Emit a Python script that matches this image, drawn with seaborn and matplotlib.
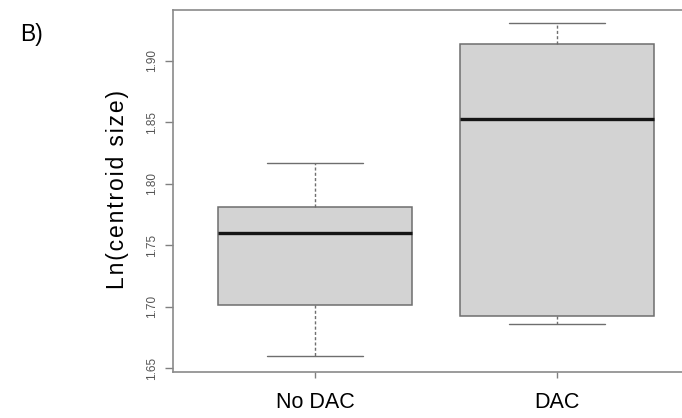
import numpy as np
import pandas as pd
import matplotlib
matplotlib.use("Agg")
import matplotlib.pyplot as plt
import seaborn as sns

# Five-number summaries (min, q1, median, q3, max)
groups = ["No DAC", "DAC"]
no_dac = [1.660, 1.701, 1.760, 1.781, 1.817]
dac = [1.686, 1.692, 1.853, 1.914, 1.931]
yticks = [1.65, 1.70, 1.75, 1.80, 1.85, 1.90]
ylabel = "Ln(centroid size)"

df = pd.DataFrame({
    "group": [groups[0]] * len(no_dac) + [groups[1]] * len(dac),
    "value": no_dac + dac,
})

sns.set_style("white")
plt.rcParams["font.family"] = ["Liberation Sans", "DejaVu Sans"]

fig = plt.figure(figsize=(6.82, 4.18), dpi=100)
W, H = 682, 418
left, right, top, bottom = 173, 699, 10, 372
ax = fig.add_axes([left / W, 1 - bottom / H, (right - left) / W, (bottom - top) / H])

edge = "#6e6e6e"
sns.boxplot(
    data=df, x="group", y="value", order=groups, ax=ax,
    color="#d3d3d3", saturation=1, width=0.8, whis=np.inf,
    linecolor=edge, linewidth=1.1, fliersize=0,
    medianprops=dict(color="#151515", linewidth=2.4),
    whiskerprops=dict(color=edge, linestyle=(0, (2.2, 1.6)), linewidth=1.0),
    capprops=dict(color=edge, linewidth=1.0),
    boxprops=dict(edgecolor=edge, linewidth=1.1),
)

ax.set_xlim(-0.587, 1.587)
ax.set_ylim(1.6467, 1.9415)
ax.set_yticks(yticks)
ax.set_yticklabels([f"{v:.2f}" for v in yticks], rotation=90, va="center",
                   fontsize=8.5, color="#555555")
ax.tick_params(axis="y", direction="out", length=6, width=1.0, color="#808080",
               pad=5, left=True)
ax.tick_params(axis="x", direction="out", length=4.5, width=1.0, color="#808080",
               pad=10, bottom=True, labelsize=15.5, labelcolor="black")
ax.set_xlabel("")
spaced = "\u200a".join(ylabel)
ax.set_ylabel(spaced, fontsize=16.5, labelpad=8, color="black")
ax.yaxis.set_label_coords(-0.083, 0.505)
for s in ax.spines.values():
    s.set_visible(True)
    s.set_color("#8a8a8a")
    s.set_linewidth(1.2)

fig.text(20 / W, 1 - 34 / H, "B)", fontsize=16.5, va="center", ha="left", color="black")

fig.savefig("out.png", dpi=100)
